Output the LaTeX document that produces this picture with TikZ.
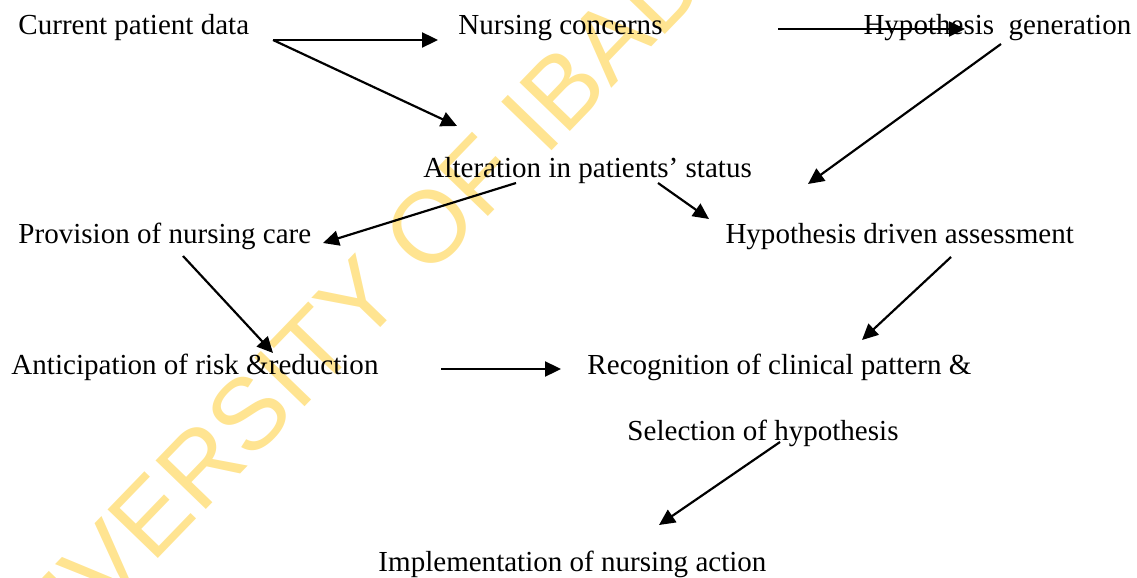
\documentclass[tikz,border=0pt]{standalone}
\usepackage{fontspec}
\setmainfont{Liberation Serif}
\newfontfamily\wmfont{Liberation Sans}
\usetikzlibrary{arrows.meta}
\definecolor{wmyellow}{RGB}{255,228,145}
\tikzset{
  lbl/.style={anchor=base west, inner sep=0pt, font=\fontsize{12pt}{14pt}\selectfont},
  conn/.style={line width=0.9pt, -{Triangle[length=6.6pt,width=6.2pt]}},
  wm/.style={inner sep=0pt, text=wmyellow, font=\wmfont\fontsize{42pt}{44pt}\selectfont}
}
\begin{document}
\begin{tikzpicture}[x=0.4132pt, y=-0.4132pt]
\useasboundingbox (0,0) rectangle (1137,577);
% watermark
\node[wm, rotate=46] (wmark) at (371,288) {UNIVERSITY OF IBADAN};
% texts
\node[lbl] (cpd) at (18,35) {Current patient data};
\node[lbl] (nc) at (458,35) {Nursing concerns};
\node[lbl] (hg) at (863,35) {Hypothesis\ \ generation};
\node[lbl] (alt) at (423,178) {Alteration in patients’ status};
\node[lbl] (pnc) at (18,243) {Provision of nursing care};
\node[lbl] (hda) at (725,243) {Hypothesis driven assessment};
\node[lbl] (ant) at (11,374) {Anticipation of risk \&reduction};
\node[lbl] (rec) at (587,374) {Recognition of clinical pattern \&};
\node[lbl] (sel) at (627,440) {Selection of hypothesis};
\node[lbl] (imp) at (378,571) {Implementation of nursing action};
% arrow end points
\coordinate (c1s) at (273,40);
\coordinate (c1e) at (438,40);
\coordinate (c2e) at (457,126);
\coordinate (c3s) at (778,29);
\coordinate (c3e) at (965,29);
\coordinate (c4s) at (1001,44);
\coordinate (c4e) at (808,184);
\coordinate (c5s) at (516,183);
\coordinate (c5e) at (323,243);
\coordinate (c6s) at (658,183);
\coordinate (c6e) at (709,219);
\coordinate (c7s) at (183,256);
\coordinate (c7e) at (273,353);
\coordinate (c8s) at (951,257);
\coordinate (c8e) at (862,340);
\coordinate (c9s) at (441,369);
\coordinate (c9e) at (561,369);
\coordinate (c10s) at (780,442);
\coordinate (c10e) at (659,525);
% connectors
\draw[conn] (c1s) -- (c1e);
\draw[conn] (c1s) -- (c2e);
\draw[conn] (c3s) -- (c3e);
\draw[conn] (c4s) -- (c4e);
\draw[conn] (c5s) -- (c5e);
\draw[conn] (c6s) -- (c6e);
\draw[conn] (c7s) -- (c7e);
\draw[conn] (c8s) -- (c8e);
\draw[conn] (c9s) -- (c9e);
\draw[conn] (c10s) -- (c10e);
\end{tikzpicture}
\end{document}
